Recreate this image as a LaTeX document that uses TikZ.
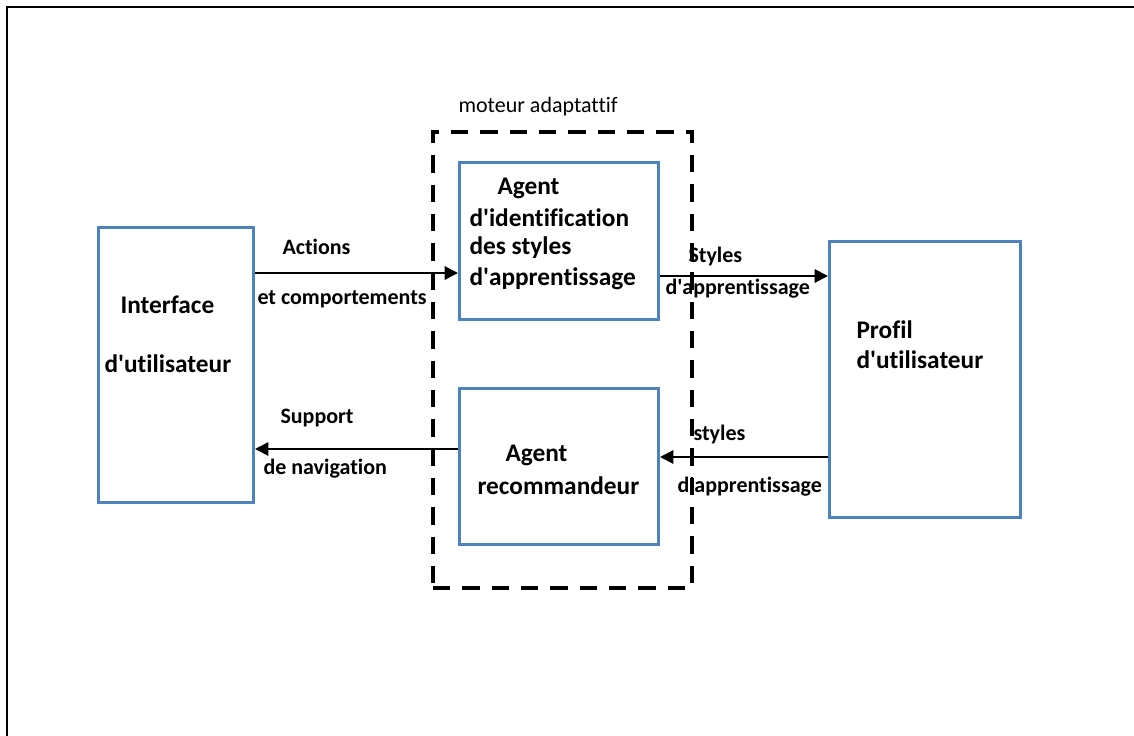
\documentclass[tikz,border=0pt]{standalone}
\usepackage{fontspec}
\setmainfont{Carlito}[Ligatures={NoCommon}]
\usetikzlibrary{arrows.meta}

\definecolor{bleubloc}{RGB}{79,129,189}
\newcommand{\apos}{\textquotesingle}

\tikzset{every picture/.style={line width=0.75pt}}
\tikzset{
  bloc/.style={draw=bleubloc, line width=2.25pt, inner sep=0pt},
  fleche/.style={line width=1.5pt, -{Triangle[length=10pt,width=10pt]}},
  txtbloc/.style={anchor=west, inner sep=0pt, font=\bfseries\fontsize{19}{22}\selectfont},
  txtfleche/.style={anchor=west, inner sep=0pt, font=\bfseries\fontsize{16.5}{20}\selectfont},
}

\begin{document}
\begin{tikzpicture}[x=0.75pt,y=0.75pt,yscale=-1,xscale=1]
	%set diagram size to 1134 x 735
	\useasboundingbox (0,0) rectangle (1134,735);

	%Frame
	\draw [line width=1.5pt]  (7,745) -- (7,7) -- (1145,7) ;

	%Shape: Rectangle [moteur adaptatif]
	\draw (562.5,360) node (moteur) [draw, line width=3pt, dash pattern=on 13pt off 9pt, minimum width=194.25pt, minimum height=342pt, inner sep=0pt] {};
	%Shape: Rectangle [interface]
	\draw (176,365) node (iface) [bloc, minimum width=116.25pt, minimum height=206.25pt] {};
	%Shape: Rectangle [agent identification]
	\draw (559,241) node (ident) [bloc, minimum width=149.25pt, minimum height=117.75pt] {};
	%Shape: Rectangle [agent recommandeur]
	\draw (559,466.5) node (recom) [bloc, minimum width=149.25pt, minimum height=117pt] {};
	%Shape: Rectangle [profil]
	\draw (925,379.5) node (profil) [bloc, minimum width=143.25pt, minimum height=207pt] {};

	%Arrow levels
	\coordinate (y1) at (0,273);
	\coordinate (y2) at (0,449);
	\coordinate (y3) at (0,276);
	\coordinate (y4) at (0,457);

	%Straight Lines with arrows
	\draw [fleche] (iface.east |- y1) -- (ident.west |- y1) ;
	\draw [fleche] (recom.west |- y2) -- (iface.east |- y2) ;
	\draw [fleche] (ident.east |- y3) -- (profil.west |- y3) ;
	\draw [fleche] (profil.west |- y4) -- (recom.east |- y4) ;

	% Text Node
	\draw (458,107) node (tmoteur) [anchor=west, inner sep=0pt, font=\fontsize{16.5}{20}\selectfont] {moteur adaptattif};
	% Text Node
	\draw (120,305) node (tiface1) [txtbloc] {Interface};
	% Text Node
	\draw (104,364) node (tiface2) [txtbloc] {d\apos utilisateur};
	% Text Node
	\draw (497,188) node (tident1) [txtbloc] {Agent};
	% Text Node
	\draw (469,218) node (tident2) [txtbloc] {d\apos identification};
	% Text Node
	\draw (469,248) node (tident3) [txtbloc] {des styles};
	% Text Node
	\draw (469,279) node (tident4) [txtbloc] {d\apos apprentissage};
	% Text Node
	\draw (505,455) node (trecom1) [txtbloc] {Agent};
	% Text Node
	\draw (477,486) node (trecom2) [txtbloc] {recommandeur};
	% Text Node
	\draw (856,330) node (tprofil1) [txtbloc] {Profil};
	% Text Node
	\draw (856,360) node (tprofil2) [txtbloc] {d\apos utilisateur};

	% Text Node
	\draw (282,247) node (lactions) [txtfleche] {Actions};
	% Text Node
	\draw (257,299) node (lcomport) [txtfleche] {et comportements};
	% Text Node
	\draw (280,418) node (lsupport) [txtfleche] {Support};
	% Text Node
	\draw (263,469) node (lnavig) [txtfleche] {de navigation};
	% Text Node
	\draw (688,257) node (lstyles1) [txtfleche] {Styles};
	% Text Node
	\draw (665,289) node (lappr1) [txtfleche] {d\apos apprentissage};
	% Text Node
	\draw (693,435) node (lstyles2) [txtfleche] {styles};
	% Text Node
	\draw (677,487) node (lappr2) [txtfleche] {d\apos apprentissage};

\end{tikzpicture}
\end{document}
